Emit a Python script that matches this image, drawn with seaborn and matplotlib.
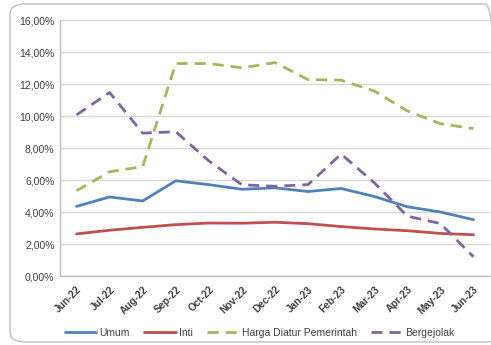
import matplotlib
matplotlib.use("Agg")
import matplotlib.pyplot as plt
from matplotlib.patches import FancyBboxPatch
from matplotlib.lines import Line2D
from matplotlib.ticker import FuncFormatter
import seaborn as sns
import pandas as pd

months = ["Jun-22", "Jul-22", "Aug-22", "Sep-22", "Oct-22", "Nov-22", "Dec-22",
          "Jan-23", "Feb-23", "Mar-23", "Apr-23", "May-23", "Jun-23"]
umum = [4.35, 4.94, 4.69, 5.95, 5.71, 5.42, 5.51, 5.28, 5.47, 4.97, 4.33, 4.00, 3.52]
inti = [2.63, 2.86, 3.04, 3.21, 3.31, 3.30, 3.36, 3.27, 3.09, 2.94, 2.83, 2.66, 2.58]
harga_diatur = [5.33, 6.51, 6.84, 13.28, 13.28, 13.01, 13.34, 12.27, 12.24, 11.56, 10.32, 9.52, 9.21]
bergejolak = [10.07, 11.47, 8.93, 9.02, 7.19, 5.70, 5.61, 5.71, 7.62, 5.83, 3.74, 3.28, 1.20]
series_names = ["Umum", "Inti", "Harga Diatur Pemerintah", "Bergejolak"]

colors = {"Umum": "#4F81BD", "Inti": "#C0504D",
          "Harga Diatur Pemerintah": "#9BBB59", "Bergejolak": "#8064A2"}
dashes = {"Umum": "", "Inti": "", "Harga Diatur Pemerintah": (4, 2.5), "Bergejolak": (4, 2.5)}

rows = []
for name, vals in zip(series_names, [umum, inti, harga_diatur, bergejolak]):
    for i, (m, v) in enumerate(zip(months, vals)):
        rows.append({"idx": i, "month": m, "value": v, "series": name})
df = pd.DataFrame(rows)

sns.set_style("white")
plt.rcParams['font.family'] = ['Liberation Sans', 'DejaVu Sans']

fig = plt.figure(figsize=(4.91, 3.45), dpi=100)
frame = FancyBboxPatch((10 / 491, 3 / 345), 490 / 491, 338 / 345,
                       boxstyle="round,pad=0,rounding_size=0.03",
                       transform=fig.transFigure, facecolor="none",
                       edgecolor="#BFBFBF", linewidth=1.0, zorder=-1)
fig.patches.append(frame)

ax = fig.add_axes([60 / 491, 1 - 276 / 345, 430 / 491, 256 / 345])
ax.set_facecolor("none")

sns.lineplot(data=df, x="idx", y="value", hue="series", style="series",
             palette=colors, dashes=dashes, hue_order=series_names,
             style_order=series_names, linewidth=2.0, ax=ax, legend=False,
             sort=False)

ax.set_xlim(-0.5, len(months) - 0.5)
ax.set_ylim(0, 16)
ax.set_yticks(range(0, 17, 2))
ax.yaxis.set_major_formatter(FuncFormatter(lambda v, p: f"{v:.2f}%".replace(".", ",")))
ax.set_xticks(range(len(months)))
ax.set_xticklabels(months, rotation=45, ha="right", rotation_mode="anchor",
                   fontsize=7.3, fontweight="bold", color="#404040")
ax.tick_params(axis="x", length=0, pad=6)
ax.set_xticks([i - 0.5 for i in range(len(months) + 1)], minor=True)
ax.tick_params(axis="x", which="minor", length=4, color="#BFBFBF", width=1)
ax.tick_params(axis="y", labelsize=7.5, labelcolor="#404040", length=0, pad=4)
ax.grid(axis="y", color="#D9D9D9", linewidth=1)
ax.set_axisbelow(True)
ax.set_xlabel("")
ax.set_ylabel("")
for s in ["top", "right"]:
    ax.spines[s].set_visible(False)
for s in ["left", "bottom"]:
    ax.spines[s].set_color("#BFBFBF")
    ax.spines[s].set_linewidth(1)

handles = [Line2D([], [], color=colors[n], linewidth=2.0,
                  linestyle="-" if dashes[n] == "" else (0, dashes[n]))
           for n in series_names]
fig.legend(handles, series_names, loc="center", bbox_to_anchor=(260 / 491, 1 - 333 / 345),
           ncol=4, frameon=False, fontsize=7.5, handlelength=3.0,
           columnspacing=1.4, handletextpad=0.3,
           labelcolor="#404040")

fig.savefig("out.png", dpi=100)
